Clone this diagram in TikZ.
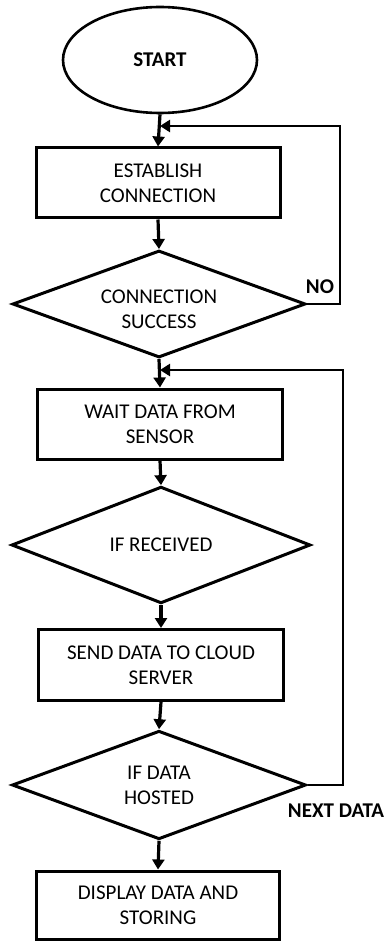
\documentclass[tikz,border=0pt]{standalone}
\usepackage{fontspec}
\setmainfont{Carlito}
\usetikzlibrary{shapes.geometric,arrows.meta}
\begin{document}
\begin{tikzpicture}[x=1pt,y=-1pt,
  every node/.style={font=\fontsize{21}{25}\selectfont, align=center, inner sep=0pt},
  box/.style={draw, line width=3pt, rectangle},
  dec/.style={draw, line width=3pt, diamond},
  term/.style={draw, line width=2.6pt, ellipse},
  flow/.style={line width=3.2pt, -{Triangle[length=10pt,width=12pt]}},
  loopline/.style={line width=2.8pt, -{Triangle[length=10pt,width=12pt]}},
  lbl/.style={font=\fontsize{21}{25}\selectfont\bfseries}]
\useasboundingbox (0,0) rectangle (385,941);
\node[term, minimum width=194pt, minimum height=106pt] (start) at (160,60) {\textbf{START}};
\node[box, minimum width=244pt, minimum height=70pt] (r1) at (158,183) {ESTABLISH\\CONNECTION};
\node[dec, minimum width=293pt, minimum height=107pt] (d1) at (159,304) {};
\node (t1) at (159,309) {CONNECTION\\SUCCESS};
\node[box, minimum width=245pt, minimum height=70pt] (r2) at (160,424) {WAIT DATA FROM\\SENSOR};
\node[dec, minimum width=299pt, minimum height=106pt] (d2) at (161,545) {IF RECEIVED};
\node[box, minimum width=245pt, minimum height=71pt] (r3) at (161,665) {SEND DATA TO CLOUD\\SERVER};
\node[dec, minimum width=294pt, minimum height=106pt] (d3) at (159,785) {IF DATA\\HOSTED};
\node[box, minimum width=243pt, minimum height=68pt] (r4) at (158,905) {DISPLAY DATA AND\\STORING};
\node[lbl] (no) at (320,287) {NO};
\node[lbl] (next) at (336,811) {NEXT DATA};
\coordinate (j1) at (160,126);
\coordinate (j2) at (160,370);
\draw[flow] (start.south) -- (r1.north);
\draw[flow] (r1.south) -- (d1.north);
\draw[flow] (d1.south) -- (r2.north);
\draw[flow] (r2.south) -- (d2.north);
\draw[flow] (d2.south) -- (r3.north);
\draw[flow] (r3.south) -- (d3.north);
\draw[flow] (d3.south) -- (r4.north);
\draw[loopline] (d1.east) -- (340,304) -- (340,126) -- (j1);
\draw[loopline] (d3.east) -- (343,785) -- (343,370) -- (j2);
\end{tikzpicture}
\end{document}
